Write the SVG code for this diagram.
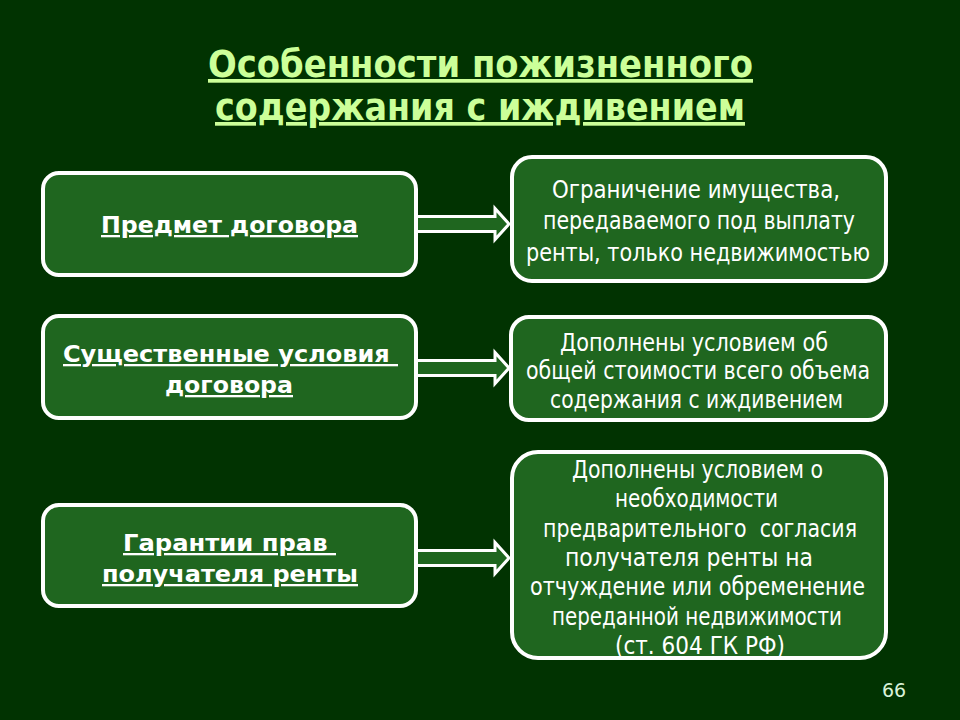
<svg xmlns="http://www.w3.org/2000/svg" width="960" height="720" viewBox="0 0 960 720">
  <style>
    .box { fill: #1f661f; stroke: #ffffff; stroke-width: 4; }
    .arrow { fill: #1f661f; stroke: #ffffff; stroke-width: 3; stroke-linejoin: miter; }
    .title { font-family: "DejaVu Sans", "Liberation Sans", sans-serif; font-weight: bold; font-size: 37px; fill: #ccff99; text-decoration: underline; }
    .lbl { font-family: "DejaVu Sans", "Liberation Sans", sans-serif; font-weight: bold; font-size: 23px; fill: #ffffff; text-decoration: underline; }
    .txt { font-family: "DejaVu Sans", "Liberation Sans", sans-serif; font-size: 24px; fill: #ffffff; }
    .num { font-family: "DejaVu Sans", "Liberation Sans", sans-serif; font-size: 19px; fill: #d9f2d9; }
  </style>
  <rect x="0" y="0" width="960" height="720" fill="#013301"/>

  <g id="title">
    <text class="title" x="208" y="77" textLength="545" lengthAdjust="spacingAndGlyphs">Особенности пожизненного</text>
    <text class="title" x="215" y="120" textLength="530" lengthAdjust="spacingAndGlyphs">содержания с иждивением</text>
  </g>

  <g id="connectors">
    <path class="arrow" d="M416,216.5 H495 V208.5 L509,224 L495,239.5 V231.5 H416 Z"/>
    <path class="arrow" d="M416,360.5 H495 V352.5 L509,368 L495,383.5 V375.5 H416 Z"/>
    <path class="arrow" d="M416,550.5 H495 V542.5 L509,558 L495,573.5 V565.5 H416 Z"/>
  </g>

  <g id="subject">
    <rect class="box" x="43" y="173" width="373" height="102" rx="16"/>
    <text class="lbl" x="101" y="233" textLength="257" lengthAdjust="spacingAndGlyphs">Предмет договора</text>
  </g>

  <g id="essential">
    <rect class="box" x="43" y="316" width="373" height="102" rx="16"/>
    <text class="lbl" xml:space="preserve" x="63" y="362" textLength="335" lengthAdjust="spacingAndGlyphs">Существенные условия </text>
    <text class="lbl" x="165" y="393" textLength="128" lengthAdjust="spacingAndGlyphs">договора</text>
  </g>

  <g id="guarantees">
    <rect class="box" x="43" y="505" width="373" height="101" rx="16"/>
    <text class="lbl" xml:space="preserve" x="123" y="551" textLength="213" lengthAdjust="spacingAndGlyphs">Гарантии прав </text>
    <text class="lbl" x="102" y="582" textLength="256" lengthAdjust="spacingAndGlyphs">получателя ренты</text>
  </g>

  <g id="restriction">
    <rect class="box" x="512" y="157" width="374" height="124" rx="20"/>
    <text class="txt" x="552" y="198" textLength="288" lengthAdjust="spacingAndGlyphs">Ограничение имущества,</text>
    <text class="txt" x="543" y="229" textLength="312" lengthAdjust="spacingAndGlyphs">передаваемого под выплату</text>
    <text class="txt" x="526" y="261" textLength="344" lengthAdjust="spacingAndGlyphs">ренты, только недвижимостью</text>
  </g>

  <g id="total-cost">
    <rect class="box" x="511" y="317" width="375" height="103" rx="18"/>
    <text class="txt" x="560" y="351" textLength="268" lengthAdjust="spacingAndGlyphs">Дополнены условием об</text>
    <text class="txt" x="526" y="379" textLength="344" lengthAdjust="spacingAndGlyphs">общей стоимости всего объема</text>
    <text class="txt" x="550" y="408" textLength="293" lengthAdjust="spacingAndGlyphs">содержания с иждивением</text>
  </g>

  <g id="consent">
    <rect class="box" x="512" y="452" width="374" height="206" rx="26"/>
    <text class="txt" x="572" y="478" textLength="251" lengthAdjust="spacingAndGlyphs">Дополнены условием о</text>
    <text class="txt" x="615" y="507" textLength="163" lengthAdjust="spacingAndGlyphs">необходимости</text>
    <text class="txt" xml:space="preserve" x="543" y="537" textLength="314" lengthAdjust="spacingAndGlyphs">предварительного  согласия</text>
    <text class="txt" x="565" y="566" textLength="248" lengthAdjust="spacingAndGlyphs">получателя ренты на</text>
    <text class="txt" x="530" y="595" textLength="335" lengthAdjust="spacingAndGlyphs">отчуждение или обременение</text>
    <text class="txt" x="552" y="625" textLength="290" lengthAdjust="spacingAndGlyphs">переданной недвижимости</text>
    <text class="txt" x="615" y="654" textLength="170" lengthAdjust="spacingAndGlyphs">(ст. 604 ГК РФ)</text>
  </g>

  <text class="num" x="882" y="697">66</text>
</svg>
